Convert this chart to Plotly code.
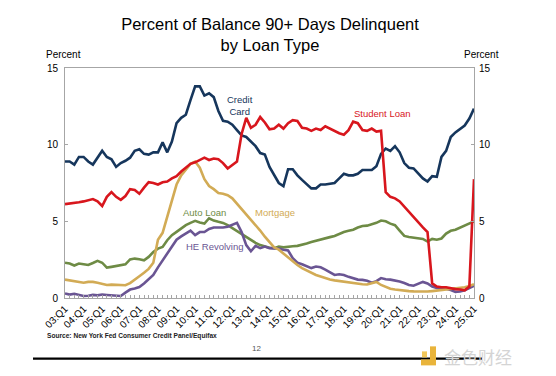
import plotly.graph_objects as go

# ---------------- data (percent of balance 90+ days delinquent) ----------------
year_labels = ["03:Q1", "04:Q1", "05:Q1", "06:Q1", "07:Q1", "08:Q1", "09:Q1", "10:Q1",
               "11:Q1", "12:Q1", "13:Q1", "14:Q1", "15:Q1", "16:Q1", "17:Q1", "18:Q1",
               "19:Q1", "20:Q1", "21:Q1", "22:Q1", "23:Q1", "24:Q1", "25:Q1"]

credit_card = [8.9, 8.9, 8.7, 9.2, 9.2, 8.9, 8.7, 9.15, 9.6, 9.2,
               9.05, 8.55, 8.8, 8.95, 9.15, 9.6, 9.7, 9.4, 9.35, 9.5,
               9.5, 10.15, 9.5, 10.2, 11.4, 11.75, 11.95, 12.9, 13.8, 13.8,
               13.2, 13.35, 13.1, 12.2, 11.55, 11.5, 11.3, 10.95, 10.6, 10.5,
               10.2, 9.9, 9.45, 9.35, 8.55, 8.0, 7.5, 7.3, 8.4, 8.4,
               8.0, 7.7, 7.4, 7.15, 7.15, 7.4, 7.4, 7.45, 7.5, 7.8,
               8.1, 8.0, 8.0, 8.1, 8.35, 8.35, 8.35, 8.6, 9.4, 9.75,
               9.6, 9.9, 9.5, 8.8, 8.5, 8.45, 8.1, 7.8, 7.6, 7.95,
               7.9, 9.2, 9.6, 10.5, 10.8, 11.0, 11.25, 11.7, 12.35]

student_loan = [6.12, 6.15, 6.2, 6.25, 6.3, 6.4, 6.45, 6.3, 6.0, 6.6,
                6.9, 6.6, 6.4, 6.65, 7.1, 7.05, 6.8, 7.2, 7.55, 7.5,
                7.4, 7.55, 7.6, 7.8, 7.95, 8.25, 8.5, 8.75, 8.85, 9.0,
                9.15, 9.0, 9.1, 9.05, 8.8, 8.45, 8.65, 8.9, 10.7, 11.75,
                11.1, 11.3, 11.8, 11.45, 11.0, 11.05, 11.3, 11.05, 11.4, 11.6,
                11.55, 11.1, 11.05, 10.9, 11.05, 10.95, 11.2, 11.05, 10.85, 10.75,
                10.65, 10.95, 11.5, 11.4, 10.95, 10.9, 11.05, 10.85, 10.9, 6.9,
                6.6, 6.5, 6.3, 5.95, 5.6, 5.25, 4.95, 4.6, 4.3, 0.95,
                0.75, 0.7, 0.7, 0.62, 0.58, 0.55, 0.5, 0.75, 7.75]

mortgage = [1.2, 1.15, 1.1, 1.05, 1.0, 1.05, 1.05, 1.0, 0.9, 0.85,
            0.87, 0.85, 0.83, 0.83, 0.97, 1.22, 1.42, 1.64, 1.9, 2.3,
            3.8, 4.25, 5.3, 6.4, 7.4, 8.0, 8.4, 8.75, 8.9, 8.5,
            7.75, 7.3, 7.1, 6.85, 6.8, 6.7, 6.5, 6.15, 5.85, 5.5,
            5.15, 4.8, 4.4, 4.0, 3.65, 3.3, 3.15, 2.9, 2.6, 2.35,
            2.15, 1.95, 1.8, 1.62, 1.5, 1.4, 1.28, 1.2, 1.15, 1.1,
            1.1, 1.05, 1.0, 0.95, 0.9, 0.88, 0.95, 1.05, 0.85, 0.7,
            0.6, 0.55, 0.5, 0.47, 0.45, 0.43, 0.42, 0.4, 0.42, 0.45,
            0.48, 0.52, 0.56, 0.6, 0.62, 0.65, 0.7, 0.78, 0.9]

auto_loan = [2.3, 2.25, 2.12, 2.25, 2.2, 2.15, 2.28, 2.42, 2.3, 1.98,
             2.03, 2.1, 2.14, 2.2, 2.52, 2.57, 2.53, 2.46, 2.68, 3.0,
             3.22, 3.33, 3.77, 4.1, 4.31, 4.53, 4.75, 4.9, 5.03, 4.92,
             4.85, 5.2, 5.05, 4.97, 4.9, 4.75, 4.55, 4.35, 4.15, 4.0,
             3.8, 3.6, 3.45, 3.35, 3.28, 3.25, 3.35, 3.3, 3.35, 3.38,
             3.4, 3.45, 3.55, 3.65, 3.72, 3.8, 3.88, 3.97, 4.05, 4.2,
             4.3, 4.38, 4.45, 4.6, 4.7, 4.72, 4.8, 4.9, 5.05, 5.0,
             4.85, 4.75, 4.4, 4.05, 3.98, 3.95, 3.9, 3.85, 3.68, 3.85,
             3.8, 3.88, 4.2, 4.38, 4.45, 4.6, 4.75, 4.9, 5.0]

he_revolving = [0.3, 0.22, 0.28, 0.18, 0.13, 0.15, 0.2, 0.17, 0.23, 0.2,
                0.18, 0.12, 0.13, 0.35, 0.55, 0.62, 0.72, 0.95, 1.2, 1.5,
                2.0, 2.45, 2.9, 3.38, 3.8, 4.02, 4.2, 4.4, 4.1, 4.3,
                4.3, 4.5, 4.6, 4.6, 4.6, 4.65, 4.75, 4.9, 4.3, 3.45,
                3.05, 3.4, 3.25, 3.35, 3.25, 3.25, 3.22, 3.15, 3.1, 2.6,
                2.3, 2.2, 2.1, 1.95, 2.05, 2.0, 1.85, 1.65, 1.5, 1.55,
                1.5, 1.38, 1.28, 1.2, 1.18, 1.12, 1.0, 1.1, 1.3, 1.22,
                1.2, 1.15, 1.08, 0.98, 0.85, 0.8, 0.9, 1.05, 0.95, 0.75,
                0.65, 0.62, 0.6, 0.52, 0.4, 0.42, 0.5, 0.65, 0.8]

y_ticks = [0, 5, 10, 15]

quarters = list(range(len(credit_card)))
label_pos = quarters[::4]

# ---------------- styling ----------------
FONT = "Liberation Sans, Arial, sans-serif"
C_CARD = "#16365C"
C_STUDENT = "#D8161D"
C_MORT = "#D2AB55"
C_AUTO = "#6E8B45"
C_HE = "#6A5593"

OFF = 8                      # page body margin of the browser
W, H = 556 - OFF, 376 - OFF  # figure size so the page fits the window
L, T = 65 - OFF, 68 - OFF
PW, PH = 409, 229.7
R, B = W - L - PW, H - T - PH


def px(xp):  # window pixel x -> paper fraction
    return (xp - OFF - L) / PW


def py(yp):  # window pixel y -> paper fraction
    return (T + PH - (yp - OFF)) / PH


fig = go.Figure()
series = [
    ("Auto Loan", auto_loan, C_AUTO),
    ("HE Revolving", he_revolving, C_HE),
    ("Mortgage", mortgage, C_MORT),
    ("Credit Card", credit_card, C_CARD),
    ("Student Loan", student_loan, C_STUDENT),
]
for name, vals, col in series:
    fig.add_trace(go.Scatter(x=quarters, y=vals, mode="lines", name=name,
                             line=dict(color=col, width=2.6), showlegend=False))
# invisible trace for right axis
fig.add_trace(go.Scatter(x=[quarters[0]], y=[y_ticks[0]], yaxis="y2", mode="markers",
                         marker=dict(opacity=0), showlegend=False, hoverinfo="skip"))

axis_col = "#A6A6A6"
fig.update_layout(
    width=W, height=H, autosize=False,
    margin=dict(l=L, r=R, t=T, b=B, pad=0),
    paper_bgcolor="white", plot_bgcolor="white",
    font=dict(family=FONT, color="black"),
    title=dict(text="Percent of Balance 90+ Days Delinquent<br>by Loan Type",
               x=(270 - OFF) / W, xanchor="center", y=1 - 21.5 / H, yanchor="middle",
               font=dict(size=16.5, color="black", family=FONT)),
    xaxis=dict(range=[quarters[0], quarters[-1]], tickmode="array", tickvals=label_pos,
               ticktext=year_labels, tickangle=-45, tickfont=dict(size=10, color="black"),
               ticks="inside", ticklen=3, tickcolor=axis_col, showgrid=False, zeroline=False,
               showline=True, linecolor=axis_col, linewidth=1, mirror=True,
               minor=dict(dtick=1, tick0=0, ticks="inside", ticklen=3, tickcolor=axis_col)),
    yaxis=dict(range=[0, 15], tickvals=y_ticks, tickfont=dict(size=10, color="black"),
               ticks="inside", ticklen=3, tickcolor=axis_col, showgrid=False, zeroline=False,
               showline=True, linecolor=axis_col, linewidth=1, mirror=True,
               ticklabelstandoff=4),
    yaxis2=dict(range=[0, 15], tickvals=y_ticks, overlaying="y", side="right",
                tickfont=dict(size=10, color="black"), ticks="inside", ticklen=3,
                tickcolor=axis_col, showgrid=False, zeroline=False, showline=False,
                ticklabelstandoff=4),
)


def note(text, x, y, size, color, xref="paper", yref="paper", xanchor="center", **kw):
    return dict(text=text, x=x, y=y, xref=xref, yref=yref, xanchor=xanchor,
                yanchor="middle", showarrow=False, font=dict(size=size, color=color, **kw))


ann = [
    note("Percent", px(63.5), py(55), 10, "black"),
    note("Percent", px(481), py(55), 10, "black"),
    note("Credit<br>Card", 37.6, 12.55, 9.5, C_CARD, "x", "y"),
    note("Student Loan", 68.3, 12.05, 9.5, C_STUDENT, "x", "y"),
    note("Auto Loan", 30.1, 5.6, 9.5, C_AUTO, "x", "y"),
    note("Mortgage", 45.2, 5.6, 9.5, C_MORT, "x", "y"),
    note("HE Revolving", 32.3, 3.38, 9.5, C_HE, "x", "y"),
    note("<b>Source: New York Fed Consumer Credit Panel/Equifax</b>", px(45), py(335.5), 6.6,
         "#222222", xanchor="left"),
    note("12", px(256), py(348), 8, "#555555"),
    note("金色财经", px(478), py(356), 17, "#D4D4D4", family="Noto Sans CJK SC, sans-serif"),
]
fig.update_layout(annotations=ann)

shapes = [
    dict(type="line", xref="paper", yref="paper", x0=px(33), x1=px(482), y0=py(358.3),
         y1=py(358.3), line=dict(color="black", width=2.2)),
    # watermark logo
    dict(type="rect", xref="paper", yref="paper", x0=px(430), x1=px(436), y0=py(364), y1=py(346),
         fillcolor="#E9B43B", line=dict(width=0)),
    dict(type="rect", xref="paper", yref="paper", x0=px(421), x1=px(436), y0=py(365), y1=py(359),
         fillcolor="#E9B43B", line=dict(width=0)),
    dict(type="rect", xref="paper", yref="paper", x0=px(422), x1=px(427), y0=py(357), y1=py(351),
         fillcolor="#F2C75A", line=dict(width=0)),
]
fig.update_layout(shapes=shapes)

fig.write_html("out.html")
